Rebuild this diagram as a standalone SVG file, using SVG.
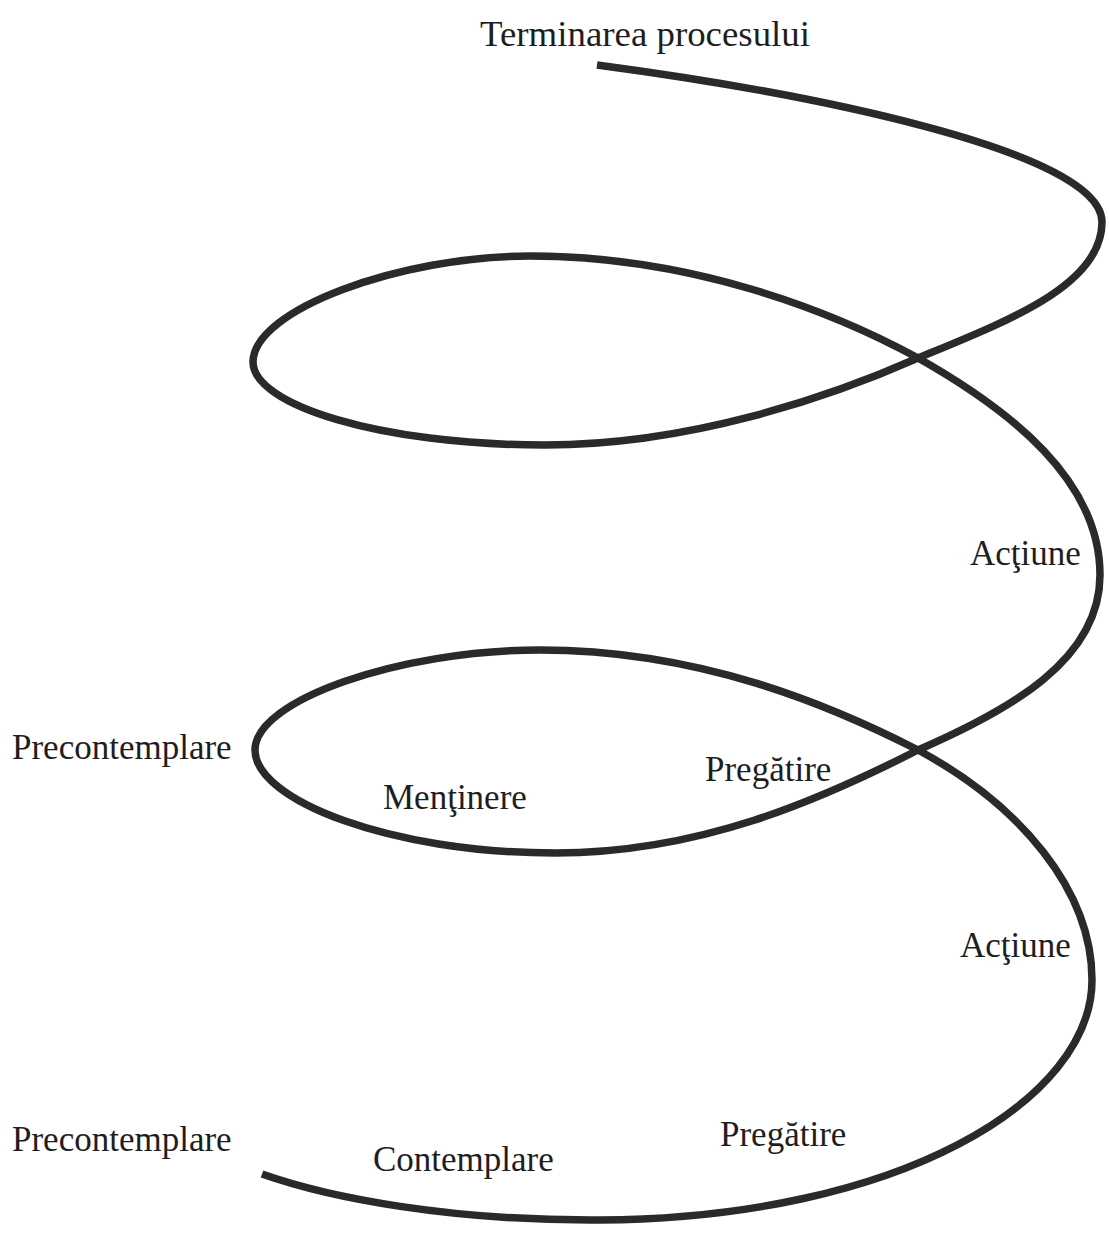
<svg xmlns="http://www.w3.org/2000/svg" width="1109" height="1236" viewBox="0 0 1109 1236">
<style>
.lbl{font-family:"Liberation Serif","Times New Roman",serif;font-size:35px;fill:#1e1e1e}
.spiral{fill:none;stroke:#2a2a2a;stroke-width:7.5;stroke-linecap:butt;stroke-linejoin:round}
</style>
<rect width="1109" height="1236" fill="#ffffff"/>
<g id="connectors">
<path class="spiral" d="M597,65 C800,92 1102,150 1102,222 C1102,285 1010,320 918,358 C830,397 690,445 545,445 C380,445 253,405 253,362 C253,310 400,256 530,256 C690,256 830,310 918,358 C1010,410 1100,480 1100,575 C1100,660 1010,710 918,750 C820,800 700,853 555,853 C390,853 255,800 255,750 C255,700 400,650 540,650 C700,650 830,705 918,750 C1020,805 1092,890 1092,980 C1092,1100 900,1218 600,1220 C450,1221 330,1198 262,1174"/>
</g>
<g id="terminarea"><text class="lbl" x="480" y="46" font-size="36" textLength="330" lengthAdjust="spacingAndGlyphs">Terminarea procesului</text></g>
<g id="actiune1"><text class="lbl" x="970" y="565">Acţiune</text></g>
<g id="precontemplare1"><text class="lbl" x="12" y="759">Precontemplare</text></g>
<g id="pregatire1"><text class="lbl" x="705" y="781">Pregătire</text></g>
<g id="mentinere"><text class="lbl" x="383" y="809">Menţinere</text></g>
<g id="actiune2"><text class="lbl" x="960" y="957">Acţiune</text></g>
<g id="precontemplare2"><text class="lbl" x="12" y="1151">Precontemplare</text></g>
<g id="contemplare"><text class="lbl" x="373" y="1171">Contemplare</text></g>
<g id="pregatire2"><text class="lbl" x="720" y="1146">Pregătire</text></g>
</svg>
